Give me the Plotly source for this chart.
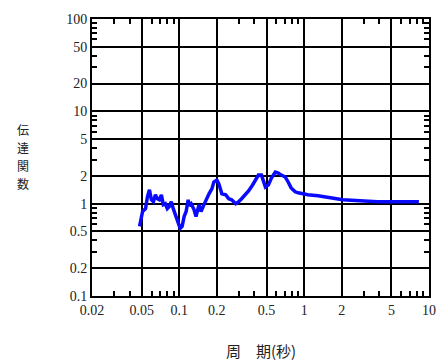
import plotly.graph_objects as go

period = [0.0481, 0.0490, 0.0508, 0.0537, 0.0556, 0.0577, 0.0598, 0.0621, 0.0644, 0.0668,
          0.0693, 0.0719, 0.0745, 0.0773, 0.0802, 0.0832, 0.0863, 0.0895, 0.0929, 0.0964,
          0.0998, 0.1016, 0.1054, 0.1094, 0.1135, 0.1178, 0.1200, 0.1245, 0.1312, 0.1361,
          0.1439, 0.1493, 0.1578, 0.1637, 0.1730, 0.1824, 0.1892, 0.2000, 0.2075, 0.2193,
          0.2355, 0.2489, 0.2630, 0.2831, 0.2992, 0.3155, 0.3396, 0.3589, 0.3864, 0.4150,
          0.4305, 0.4550, 0.4721, 0.4898, 0.5176, 0.5470, 0.5875, 0.6209, 0.6561, 0.7063,
          0.7447, 0.7870, 0.8472, 0.8954, 1.07, 1.29, 2.04, 3.86, 8.3]
transfer = [0.568, 0.675, 0.822, 0.884, 1.188, 1.411, 1.103, 1.050, 1.248, 1.131,
            1.103, 1.248, 0.976, 1.0, 0.884, 0.929, 1.050, 0.884, 0.763, 0.675,
            0.568, 0.541, 0.568, 0.727, 0.822, 1.103, 0.95, 1.0, 0.863, 0.727,
            0.976, 0.822, 0.976, 1.103, 1.279, 1.446, 1.717, 1.804, 1.635, 1.279,
            1.248, 1.131, 1.103, 1.0, 1.050, 1.131, 1.248, 1.376, 1.595, 1.894,
            2.039, 2.039, 1.717, 1.518, 1.595, 1.894, 2.195, 2.142, 2.039, 1.942,
            1.717, 1.482, 1.343, 1.310, 1.248, 1.22, 1.10, 1.05, 1.05]

x_ticks = [0.02, 0.05, 0.1, 0.2, 0.5, 1, 2, 5, 10]
x_labels = ["0.02", "0.05", "0.1", "0.2", "0.5", "1", "2", "5", "10"]
y_ticks = [0.1, 0.2, 0.5, 1, 2, 5, 10, 20, 50, 100]
y_labels = ["0.1", "0.2", "0.5", "1", "2", "5", "10", "20", "50", "100"]
y_title_chars = ["伝", "達", "関", "数"]
x_title = "周　期(秒)"

x_minor = [m * d for d in (0.01, 0.1, 1) for m in (3, 4, 6, 7, 8, 9)]
y_minor = [m * d for d in (0.1, 1, 10) for m in (3, 4, 6, 7, 8, 9)]

fig = go.Figure()
fig.add_trace(go.Scatter(x=period, y=transfer, mode="lines",
                         line=dict(color="#0a0aff", width=3.5), showlegend=False))

tickfont = dict(family="Liberation Serif", size=14, color="#222")
fig.update_xaxes(type="log", range=[-1.69897, 1], tickmode="array", tickvals=x_ticks,
                 ticktext=x_labels, ticks="", showgrid=True, gridcolor="black", gridwidth=2,
                 showline=True, linecolor="black", linewidth=2, mirror="allticks",
                 zeroline=False, tickfont=tickfont,
                 minor=dict(tickmode="array", tickvals=x_minor, ticks="inside", ticklen=5,
                            tickwidth=2, tickcolor="black", showgrid=False))
fig.update_yaxes(type="log", range=[-1, 2], tickmode="array", tickvals=y_ticks,
                 ticktext=y_labels, ticks="", showgrid=True, gridcolor="black", gridwidth=2,
                 showline=True, linecolor="black", linewidth=2, mirror="allticks",
                 zeroline=False, tickfont=tickfont,
                 minor=dict(tickmode="array", tickvals=y_minor, ticks="inside", ticklen=5,
                            tickwidth=2, tickcolor="black", showgrid=False))

W, H = 448, 361
L, R, T, B = 92, 16, 14, 65
pw, ph = W - L - R, H - T - B

annotations = []
for i, ch in enumerate(y_title_chars):
    py = 127 + 18 * i
    annotations.append(dict(text=ch, x=(22 - L) / pw, y=(H - B - py) / ph,
                            xref="paper", yref="paper", xanchor="center", yanchor="middle",
                            showarrow=False,
                            font=dict(family="Noto Sans CJK JP", size=12, color="#222")))
annotations.append(dict(text=x_title, x=0.5, y=-(351 - (H - B)) / ph, xref="paper", yref="paper",
                        xanchor="center", yanchor="middle", showarrow=False,
                        font=dict(family="Noto Sans CJK JP", size=15, color="#222")))

fig.update_layout(
    width=W, height=H,
    margin=dict(l=L, r=R, t=T, b=B),
    paper_bgcolor="white", plot_bgcolor="white",
    annotations=annotations,
)

fig.write_html("out.html")
